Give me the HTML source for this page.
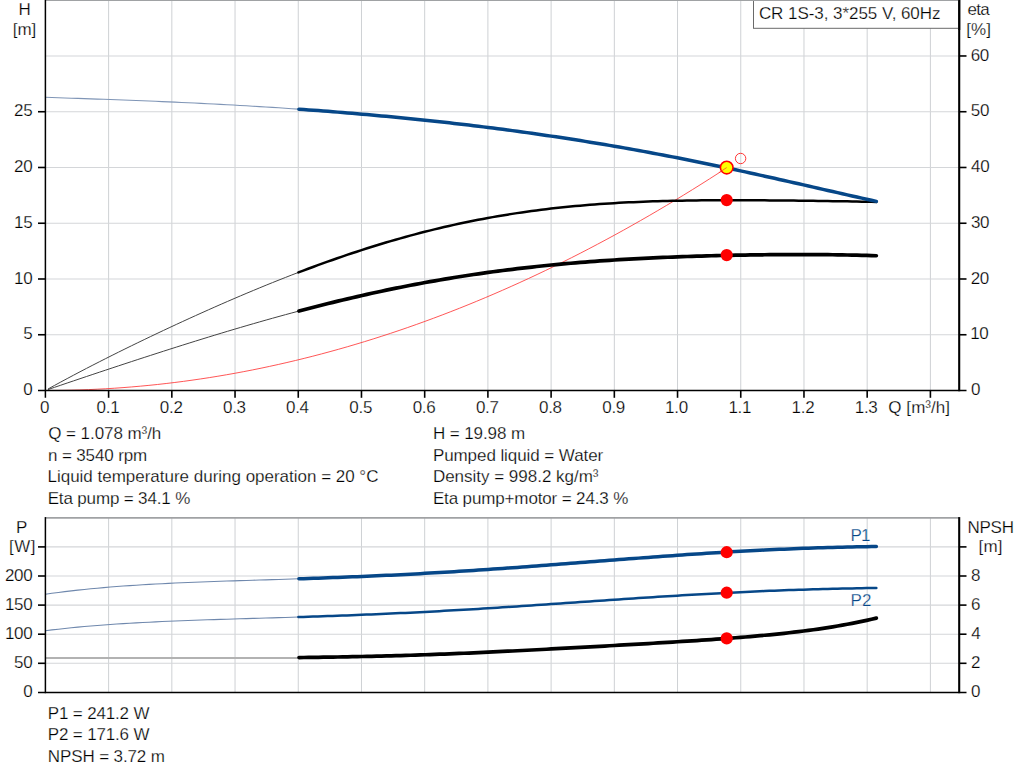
<!DOCTYPE html><html><head><meta charset="utf-8"><title>Pump curve</title>
<style>html,body{margin:0;padding:0;background:#fff;overflow:hidden}svg{display:block}text{font-family:"Liberation Sans",sans-serif;font-size:17px;fill:#000;stroke:#fff;stroke-width:0.25px;paint-order:fill stroke}</style></head><body>
<svg width="1024" height="781" viewBox="0 0 1024 781">
<rect width="1024" height="781" fill="#fff"/>
<g stroke="#ced1d4" stroke-width="1"><line x1="108.61" y1="0" x2="108.61" y2="390.50"/><line x1="108.61" y1="517.90" x2="108.61" y2="692.40"/><line x1="171.83" y1="0" x2="171.83" y2="390.50"/><line x1="171.83" y1="517.90" x2="171.83" y2="692.40"/><line x1="235.04" y1="0" x2="235.04" y2="390.50"/><line x1="235.04" y1="517.90" x2="235.04" y2="692.40"/><line x1="298.26" y1="0" x2="298.26" y2="390.50"/><line x1="298.26" y1="517.90" x2="298.26" y2="692.40"/><line x1="361.47" y1="0" x2="361.47" y2="390.50"/><line x1="361.47" y1="517.90" x2="361.47" y2="692.40"/><line x1="424.68" y1="0" x2="424.68" y2="390.50"/><line x1="424.68" y1="517.90" x2="424.68" y2="692.40"/><line x1="487.90" y1="0" x2="487.90" y2="390.50"/><line x1="487.90" y1="517.90" x2="487.90" y2="692.40"/><line x1="551.11" y1="0" x2="551.11" y2="390.50"/><line x1="551.11" y1="517.90" x2="551.11" y2="692.40"/><line x1="614.33" y1="0" x2="614.33" y2="390.50"/><line x1="614.33" y1="517.90" x2="614.33" y2="692.40"/><line x1="677.54" y1="0" x2="677.54" y2="390.50"/><line x1="677.54" y1="517.90" x2="677.54" y2="692.40"/><line x1="740.75" y1="0" x2="740.75" y2="390.50"/><line x1="740.75" y1="517.90" x2="740.75" y2="692.40"/><line x1="803.97" y1="0" x2="803.97" y2="390.50"/><line x1="803.97" y1="517.90" x2="803.97" y2="692.40"/><line x1="867.18" y1="0" x2="867.18" y2="390.50"/><line x1="867.18" y1="517.90" x2="867.18" y2="692.40"/><line x1="930.40" y1="0" x2="930.40" y2="390.50"/><line x1="930.40" y1="517.90" x2="930.40" y2="692.40"/></g>
<g stroke="#d4d6d9" stroke-width="1.1"><line x1="45.40" y1="334.75" x2="959.20" y2="334.75"/><line x1="45.40" y1="278.99" x2="959.20" y2="278.99"/><line x1="45.40" y1="223.24" x2="959.20" y2="223.24"/><line x1="45.40" y1="167.48" x2="959.20" y2="167.48"/><line x1="45.40" y1="111.73" x2="959.20" y2="111.73"/><line x1="45.40" y1="55.97" x2="959.20" y2="55.97"/><line x1="45.40" y1="663.30" x2="959.20" y2="663.30"/><line x1="45.40" y1="634.20" x2="959.20" y2="634.20"/><line x1="45.40" y1="605.10" x2="959.20" y2="605.10"/><line x1="45.40" y1="576.00" x2="959.20" y2="576.00"/><line x1="45.40" y1="546.90" x2="959.20" y2="546.90"/></g>
<line x1="45.40" y1="0.15" x2="959.20" y2="0.15" stroke="#a0a2a4" stroke-width="1.7"/>
<line x1="45.40" y1="517.90" x2="959.20" y2="517.90" stroke="#a0a2a4" stroke-width="1.7"/>
<path d="M45.40,97.28 L51.88,97.51 L58.37,97.73 L64.85,97.96 L71.33,98.18 L77.82,98.40 L84.30,98.63 L90.78,98.85 L97.27,99.08 L103.75,99.31 L110.23,99.55 L116.72,99.78 L123.20,100.02 L129.69,100.27 L136.17,100.52 L142.65,100.78 L149.14,101.04 L155.62,101.30 L162.10,101.58 L168.59,101.86 L175.07,102.14 L181.55,102.44 L188.04,102.74 L194.52,103.04 L201.00,103.36 L207.49,103.68 L213.97,104.02 L220.45,104.36 L226.94,104.70 L233.42,105.06 L239.90,105.43 L246.39,105.80 L252.87,106.19 L259.36,106.58 L265.84,106.98 L272.32,107.40 L278.81,107.82 L285.29,108.25 L291.77,108.69 L298.26,109.15" fill="none" stroke="#7f95b6" stroke-width="1.1"/>
<path d="M47.93,389.07 L54.35,385.53 L60.77,382.03 L67.18,378.58 L73.60,375.16 L80.02,371.78 L86.44,368.43 L92.86,365.12 L99.28,361.84 L105.70,358.58 L112.12,355.35 L118.53,352.15 L124.95,348.98 L131.37,345.83 L137.79,342.71 L144.21,339.61 L150.63,336.53 L157.05,333.47 L163.46,330.44 L169.88,327.43 L176.30,324.44 L182.72,321.48 L189.14,318.54 L195.56,315.62 L201.98,312.72 L208.39,309.85 L214.81,307.01 L221.23,304.18 L227.65,301.39 L234.07,298.62 L240.49,295.87 L246.91,293.15 L253.33,290.47 L259.74,287.80 L266.16,285.17 L272.58,282.57 L279.00,280.00 L285.42,277.47 L291.84,274.96 L298.26,272.49" fill="none" stroke="#444" stroke-width="1"/>
<path d="M47.93,389.58 L54.35,387.39 L60.77,385.21 L67.18,383.03 L73.60,380.86 L80.02,378.70 L86.44,376.54 L92.86,374.39 L99.28,372.24 L105.70,370.11 L112.12,367.98 L118.53,365.85 L124.95,363.74 L131.37,361.63 L137.79,359.53 L144.21,357.44 L150.63,355.36 L157.05,353.29 L163.46,351.22 L169.88,349.17 L176.30,347.13 L182.72,345.10 L189.14,343.08 L195.56,341.08 L201.98,339.09 L208.39,337.11 L214.81,335.14 L221.23,333.19 L227.65,331.26 L234.07,329.34 L240.49,327.44 L246.91,325.56 L253.33,323.70 L259.74,321.85 L266.16,320.03 L272.58,318.22 L279.00,316.44 L285.42,314.68 L291.84,312.94 L298.26,311.22" fill="none" stroke="#444" stroke-width="1"/>
<path d="M45.40,390.50 L54.03,390.46 L62.65,390.36 L71.28,390.18 L79.90,389.93 L88.53,389.61 L97.16,389.21 L105.78,388.75 L114.41,388.22 L123.03,387.61 L131.66,386.93 L140.29,386.18 L148.91,385.36 L157.54,384.47 L166.16,383.50 L174.79,382.47 L183.41,381.36 L192.04,380.18 L200.67,378.93 L209.29,377.61 L217.92,376.22 L226.54,374.76 L235.17,373.22 L243.80,371.62 L252.42,369.94 L261.05,368.19 L269.67,366.37 L278.30,364.48 L286.93,362.51 L295.55,360.48 L304.18,358.37 L312.80,356.19 L321.43,353.94 L330.06,351.62 L338.68,349.23 L347.31,346.77 L355.93,344.23 L364.56,341.63 L373.18,338.95 L381.81,336.20 L390.44,333.38 L399.06,330.49 L407.69,327.53 L416.31,324.49 L424.94,321.39 L433.57,318.21 L442.19,314.96 L450.82,311.64 L459.44,308.25 L468.07,304.79 L476.70,301.25 L485.32,297.65 L493.95,293.97 L502.57,290.22 L511.20,286.40 L519.83,282.51 L528.45,278.55 L537.08,274.51 L545.70,270.41 L554.33,266.23 L562.95,261.98 L571.58,257.66 L580.21,253.27 L588.83,248.81 L597.46,244.28 L606.08,239.67 L614.71,235.00 L623.34,230.25 L631.96,225.43 L640.59,220.54 L649.21,215.58 L657.84,210.54 L666.47,205.44 L675.09,200.26 L683.72,195.01 L692.34,189.69 L700.97,184.30 L709.60,178.84 L718.22,173.31 L726.85,167.70" fill="none" stroke="#ff3838" stroke-width="0.85"/>
<path d="M298.41,272.43 L303.26,270.59 L308.12,268.76 L312.98,266.96 L317.83,265.17 L322.69,263.41 L327.55,261.67 L332.40,259.95 L337.26,258.25 L342.12,256.57 L346.97,254.92 L351.83,253.29 L356.69,251.69 L361.54,250.11 L366.40,248.55 L371.26,247.02 L376.11,245.51 L380.97,244.02 L385.83,242.56 L390.68,241.13 L395.54,239.72 L400.40,238.34 L405.25,236.98 L410.11,235.65 L414.97,234.35 L419.82,233.07 L424.68,231.82 L429.54,230.60 L434.39,229.40 L439.25,228.23 L444.11,227.09 L448.96,225.97 L453.82,224.88 L458.68,223.81 L463.53,222.78 L468.39,221.77 L473.25,220.79 L478.10,219.83 L482.96,218.90 L487.82,218.00 L492.67,217.12 L497.53,216.27 L502.39,215.45 L507.24,214.65 L512.10,213.88 L516.96,213.13 L521.81,212.41 L526.67,211.72 L531.53,211.05 L536.38,210.40 L541.24,209.78 L546.10,209.18 L550.95,208.61 L555.81,208.06 L560.67,207.53 L565.52,207.03 L570.38,206.54 L575.24,206.08 L580.09,205.65 L584.95,205.23 L589.81,204.83 L594.66,204.46 L599.52,204.10 L604.38,203.76 L609.23,203.45 L614.09,203.15 L618.95,202.87 L623.80,202.60 L628.66,202.36 L633.52,202.13 L638.37,201.91 L643.23,201.72 L648.09,201.53 L652.94,201.36 L657.80,201.21 L662.66,201.07 L667.51,200.94 L672.37,200.83 L677.23,200.72 L682.08,200.63 L686.94,200.55 L691.80,200.48 L696.65,200.42 L701.51,200.37 L706.37,200.32 L711.22,200.29 L716.08,200.26 L720.94,200.25 L725.79,200.24 L730.65,200.23 L735.51,200.23 L740.36,200.24 L745.22,200.25 L750.07,200.27 L754.93,200.29 L759.79,200.32 L764.64,200.35 L769.50,200.39 L774.36,200.43 L779.21,200.47 L784.07,200.51 L788.93,200.56 L793.78,200.61 L798.64,200.67 L803.50,200.73 L808.35,200.79 L813.21,200.85 L818.07,200.91 L822.92,200.98 L827.78,201.05 L832.64,201.13 L837.49,201.20 L842.35,201.29 L847.21,201.37 L852.06,201.46 L856.92,201.56 L861.78,201.66 L866.63,201.76 L871.49,201.87 L876.35,201.99" fill="none" stroke="#000" stroke-width="2.50" stroke-linejoin="round" stroke-linecap="round"/>
<path d="M299.01,311.02 L303.86,309.74 L308.71,308.47 L313.56,307.21 L318.41,305.97 L323.26,304.75 L328.12,303.54 L332.97,302.34 L337.82,301.16 L342.67,299.99 L347.52,298.84 L352.37,297.70 L357.23,296.58 L362.08,295.47 L366.93,294.38 L371.78,293.30 L376.63,292.24 L381.48,291.20 L386.34,290.18 L391.19,289.16 L396.04,288.17 L400.89,287.19 L405.74,286.23 L410.59,285.29 L415.44,284.36 L420.30,283.45 L425.15,282.55 L430.00,281.68 L434.85,280.82 L439.70,279.97 L444.55,279.14 L449.41,278.33 L454.26,277.54 L459.11,276.76 L463.96,276.00 L468.81,275.26 L473.66,274.53 L478.52,273.82 L483.37,273.12 L488.22,272.44 L493.07,271.78 L497.92,271.13 L502.77,270.50 L507.63,269.89 L512.48,269.29 L517.33,268.70 L522.18,268.13 L527.03,267.58 L531.88,267.04 L536.74,266.52 L541.59,266.01 L546.44,265.51 L551.29,265.03 L556.14,264.57 L560.99,264.12 L565.84,263.68 L570.70,263.25 L575.55,262.84 L580.40,262.44 L585.25,262.06 L590.10,261.68 L594.95,261.32 L599.81,260.97 L604.66,260.64 L609.51,260.31 L614.36,260.00 L619.21,259.69 L624.06,259.40 L628.92,259.12 L633.77,258.85 L638.62,258.59 L643.47,258.34 L648.32,258.10 L653.17,257.87 L658.03,257.65 L662.88,257.43 L667.73,257.23 L672.58,257.03 L677.43,256.85 L682.28,256.67 L687.14,256.50 L691.99,256.34 L696.84,256.18 L701.69,256.04 L706.54,255.90 L711.39,255.77 L716.24,255.64 L721.10,255.52 L725.95,255.41 L730.80,255.31 L735.65,255.21 L740.50,255.12 L745.35,255.04 L750.21,254.96 L755.06,254.89 L759.91,254.83 L764.76,254.77 L769.61,254.72 L774.46,254.68 L779.32,254.64 L784.17,254.61 L789.02,254.59 L793.87,254.58 L798.72,254.57 L803.57,254.57 L808.43,254.58 L813.28,254.60 L818.13,254.62 L822.98,254.66 L827.83,254.70 L832.68,254.76 L837.54,254.82 L842.39,254.90 L847.24,254.98 L852.09,255.08 L856.94,255.19 L861.79,255.31 L866.64,255.45 L871.50,255.60 L876.35,255.76" fill="none" stroke="#000" stroke-width="3.70" stroke-linejoin="round" stroke-linecap="round"/>
<path d="M298.91,109.19 L303.76,109.54 L308.61,109.89 L313.46,110.25 L318.32,110.61 L323.17,110.98 L328.02,111.36 L332.87,111.74 L337.73,112.13 L342.58,112.52 L347.43,112.92 L352.28,113.33 L357.14,113.74 L361.99,114.16 L366.84,114.58 L371.69,115.01 L376.55,115.45 L381.40,115.90 L386.25,116.35 L391.10,116.81 L395.96,117.27 L400.81,117.75 L405.66,118.22 L410.51,118.71 L415.36,119.20 L420.22,119.70 L425.07,120.21 L429.92,120.73 L434.77,121.25 L439.63,121.78 L444.48,122.31 L449.33,122.86 L454.18,123.41 L459.04,123.97 L463.89,124.53 L468.74,125.11 L473.59,125.69 L478.45,126.28 L483.30,126.88 L488.15,127.48 L493.00,128.10 L497.86,128.72 L502.71,129.35 L507.56,129.99 L512.41,130.63 L517.27,131.29 L522.12,131.95 L526.97,132.62 L531.82,133.30 L536.68,133.99 L541.53,134.69 L546.38,135.40 L551.23,136.11 L556.09,136.84 L560.94,137.57 L565.79,138.31 L570.64,139.06 L575.50,139.82 L580.35,140.59 L585.20,141.36 L590.05,142.15 L594.91,142.94 L599.76,143.75 L604.61,144.56 L609.46,145.38 L614.32,146.21 L619.17,147.06 L624.02,147.90 L628.87,148.76 L633.73,149.63 L638.58,150.51 L643.43,151.39 L648.28,152.29 L653.14,153.19 L657.99,154.10 L662.84,155.02 L667.69,155.95 L672.54,156.89 L677.40,157.83 L682.25,158.79 L687.10,159.75 L691.95,160.72 L696.81,161.70 L701.66,162.69 L706.51,163.69 L711.36,164.69 L716.22,165.70 L721.07,166.72 L725.92,167.74 L730.77,168.77 L735.63,169.81 L740.48,170.86 L745.33,171.91 L750.18,172.97 L755.04,174.03 L759.89,175.10 L764.74,176.17 L769.59,177.25 L774.45,178.33 L779.30,179.42 L784.15,180.51 L789.00,181.61 L793.86,182.71 L798.71,183.81 L803.56,184.91 L808.41,186.01 L813.27,187.12 L818.12,188.23 L822.97,189.34 L827.82,190.44 L832.68,191.55 L837.53,192.65 L842.38,193.76 L847.23,194.86 L852.09,195.96 L856.94,197.05 L861.79,198.14 L866.64,199.22 L871.50,200.30 L876.35,201.38" fill="none" stroke="#064788" stroke-width="3.50" stroke-linejoin="round" stroke-linecap="round"/>
<line x1="45.40" y1="658.0" x2="298.26" y2="658.0" stroke="#b2b2b2" stroke-width="1.8"/>
<path d="M45.40,594.25 L51.88,593.33 L58.37,592.46 L64.85,591.64 L71.33,590.87 L77.82,590.14 L84.30,589.45 L90.78,588.80 L97.27,588.18 L103.75,587.60 L110.23,587.06 L116.72,586.55 L123.20,586.06 L129.69,585.61 L136.17,585.18 L142.65,584.78 L149.14,584.40 L155.62,584.04 L162.10,583.70 L168.59,583.38 L175.07,583.07 L181.55,582.78 L188.04,582.51 L194.52,582.24 L201.00,581.99 L207.49,581.75 L213.97,581.52 L220.45,581.29 L226.94,581.07 L233.42,580.86 L239.90,580.65 L246.39,580.45 L252.87,580.24 L259.36,580.04 L265.84,579.84 L272.32,579.64 L278.81,579.44 L285.29,579.23 L291.77,579.03 L298.26,578.82" fill="none" stroke="#6f88ad" stroke-width="1.1"/>
<path d="M45.40,630.72 L51.88,629.92 L58.37,629.18 L64.85,628.47 L71.33,627.80 L77.82,627.17 L84.30,626.57 L90.78,626.01 L97.27,625.48 L103.75,624.98 L110.23,624.50 L116.72,624.06 L123.20,623.64 L129.69,623.24 L136.17,622.87 L142.65,622.51 L149.14,622.18 L155.62,621.86 L162.10,621.56 L168.59,621.28 L175.07,621.01 L181.55,620.75 L188.04,620.50 L194.52,620.27 L201.00,620.04 L207.49,619.82 L213.97,619.61 L220.45,619.40 L226.94,619.20 L233.42,619.00 L239.90,618.81 L246.39,618.61 L252.87,618.42 L259.36,618.23 L265.84,618.04 L272.32,617.85 L278.81,617.66 L285.29,617.46 L291.77,617.26 L298.26,617.06" fill="none" stroke="#6f88ad" stroke-width="1.1"/>
<path d="M298.91,578.80 L303.76,578.64 L308.61,578.47 L313.46,578.31 L318.32,578.14 L323.17,577.97 L328.02,577.79 L332.87,577.61 L337.73,577.43 L342.58,577.24 L347.43,577.05 L352.28,576.86 L357.14,576.66 L361.99,576.46 L366.84,576.25 L371.69,576.04 L376.55,575.82 L381.40,575.60 L386.25,575.37 L391.10,575.14 L395.96,574.90 L400.81,574.66 L405.66,574.41 L410.51,574.16 L415.36,573.90 L420.22,573.64 L425.07,573.37 L429.92,573.09 L434.77,572.82 L439.63,572.53 L444.48,572.24 L449.33,571.95 L454.18,571.65 L459.04,571.35 L463.89,571.04 L468.74,570.73 L473.59,570.42 L478.45,570.09 L483.30,569.77 L488.15,569.44 L493.00,569.11 L497.86,568.77 L502.71,568.43 L507.56,568.08 L512.41,567.74 L517.27,567.39 L522.12,567.03 L526.97,566.67 L531.82,566.31 L536.68,565.95 L541.53,565.59 L546.38,565.22 L551.23,564.85 L556.09,564.48 L560.94,564.11 L565.79,563.74 L570.64,563.36 L575.50,562.99 L580.35,562.61 L585.20,562.23 L590.05,561.86 L594.91,561.48 L599.76,561.10 L604.61,560.73 L609.46,560.35 L614.32,559.98 L619.17,559.60 L624.02,559.23 L628.87,558.86 L633.73,558.49 L638.58,558.12 L643.43,557.76 L648.28,557.40 L653.14,557.04 L657.99,556.68 L662.84,556.33 L667.69,555.98 L672.54,555.63 L677.40,555.29 L682.25,554.95 L687.10,554.62 L691.95,554.29 L696.81,553.97 L701.66,553.65 L706.51,553.33 L711.36,553.02 L716.22,552.72 L721.07,552.42 L725.92,552.13 L730.77,551.85 L735.63,551.57 L740.48,551.29 L745.33,551.03 L750.18,550.77 L755.04,550.51 L759.89,550.27 L764.74,550.03 L769.59,549.79 L774.45,549.57 L779.30,549.35 L784.15,549.14 L789.00,548.93 L793.86,548.74 L798.71,548.55 L803.56,548.37 L808.41,548.19 L813.27,548.03 L818.12,547.87 L822.97,547.72 L827.82,547.57 L832.68,547.43 L837.53,547.30 L842.38,547.18 L847.23,547.06 L852.09,546.95 L856.94,546.85 L861.79,546.76 L866.64,546.67 L871.50,546.58 L876.35,546.51" fill="none" stroke="#064788" stroke-width="3.50" stroke-linejoin="round" stroke-linecap="round"/>
<path d="M298.41,617.06 L303.26,616.90 L308.12,616.75 L312.98,616.59 L317.83,616.43 L322.69,616.26 L327.55,616.09 L332.40,615.92 L337.26,615.75 L342.12,615.57 L346.97,615.39 L351.83,615.20 L356.69,615.01 L361.54,614.82 L366.40,614.62 L371.26,614.42 L376.11,614.22 L380.97,614.01 L385.83,613.79 L390.68,613.57 L395.54,613.35 L400.40,613.12 L405.25,612.89 L410.11,612.65 L414.97,612.41 L419.82,612.16 L424.68,611.91 L429.54,611.66 L434.39,611.40 L439.25,611.14 L444.11,610.87 L448.96,610.60 L453.82,610.32 L458.68,610.04 L463.53,609.76 L468.39,609.47 L473.25,609.18 L478.10,608.88 L482.96,608.58 L487.82,608.28 L492.67,607.98 L497.53,607.67 L502.39,607.36 L507.24,607.04 L512.10,606.73 L516.96,606.41 L521.81,606.09 L526.67,605.76 L531.53,605.44 L536.38,605.11 L541.24,604.78 L546.10,604.45 L550.95,604.12 L555.81,603.78 L560.67,603.45 L565.52,603.11 L570.38,602.77 L575.24,602.44 L580.09,602.10 L584.95,601.76 L589.81,601.43 L594.66,601.09 L599.52,600.76 L604.38,600.42 L609.23,600.09 L614.09,599.75 L618.95,599.42 L623.80,599.09 L628.66,598.76 L633.52,598.44 L638.37,598.11 L643.23,597.79 L648.09,597.47 L652.94,597.16 L657.80,596.85 L662.66,596.54 L667.51,596.23 L672.37,595.93 L677.23,595.63 L682.08,595.33 L686.94,595.04 L691.80,594.75 L696.65,594.47 L701.51,594.19 L706.37,593.92 L711.22,593.65 L716.08,593.39 L720.94,593.13 L725.79,592.88 L730.65,592.63 L735.51,592.39 L740.36,592.15 L745.22,591.92 L750.07,591.70 L754.93,591.48 L759.79,591.27 L764.64,591.06 L769.50,590.86 L774.36,590.67 L779.21,590.48 L784.07,590.30 L788.93,590.12 L793.78,589.95 L798.64,589.79 L803.50,589.63 L808.35,589.48 L813.21,589.34 L818.07,589.20 L822.92,589.06 L827.78,588.94 L832.64,588.82 L837.49,588.70 L842.35,588.59 L847.21,588.49 L852.06,588.39 L856.92,588.29 L861.78,588.20 L866.63,588.12 L871.49,588.04 L876.35,587.96" fill="none" stroke="#064788" stroke-width="2.50" stroke-linejoin="round" stroke-linecap="round"/>
<path d="M299.01,657.58 L303.86,657.51 L308.71,657.44 L313.56,657.37 L318.41,657.30 L323.26,657.22 L328.12,657.14 L332.97,657.07 L337.82,656.98 L342.67,656.90 L347.52,656.81 L352.37,656.71 L357.23,656.62 L362.08,656.51 L366.93,656.41 L371.78,656.30 L376.63,656.18 L381.48,656.06 L386.34,655.94 L391.19,655.81 L396.04,655.67 L400.89,655.53 L405.74,655.38 L410.59,655.23 L415.44,655.07 L420.30,654.91 L425.15,654.75 L430.00,654.57 L434.85,654.40 L439.70,654.22 L444.55,654.03 L449.41,653.84 L454.26,653.64 L459.11,653.44 L463.96,653.24 L468.81,653.03 L473.66,652.82 L478.52,652.60 L483.37,652.38 L488.22,652.15 L493.07,651.93 L497.92,651.69 L502.77,651.46 L507.63,651.22 L512.48,650.98 L517.33,650.74 L522.18,650.49 L527.03,650.24 L531.88,649.99 L536.74,649.74 L541.59,649.48 L546.44,649.23 L551.29,648.97 L556.14,648.71 L560.99,648.45 L565.84,648.18 L570.70,647.92 L575.55,647.65 L580.40,647.39 L585.25,647.12 L590.10,646.85 L594.95,646.58 L599.81,646.31 L604.66,646.03 L609.51,645.76 L614.36,645.49 L619.21,645.21 L624.06,644.93 L628.92,644.66 L633.77,644.38 L638.62,644.09 L643.47,643.81 L648.32,643.53 L653.17,643.24 L658.03,642.95 L662.88,642.66 L667.73,642.37 L672.58,642.07 L677.43,641.77 L682.28,641.47 L687.14,641.16 L691.99,640.85 L696.84,640.53 L701.69,640.21 L706.54,639.88 L711.39,639.55 L716.24,639.20 L721.10,638.86 L725.95,638.50 L730.80,638.13 L735.65,637.76 L740.50,637.37 L745.35,636.98 L750.21,636.57 L755.06,636.15 L759.91,635.71 L764.76,635.26 L769.61,634.80 L774.46,634.32 L779.32,633.82 L784.17,633.30 L789.02,632.76 L793.87,632.21 L798.72,631.63 L803.57,631.02 L808.43,630.40 L813.28,629.74 L818.13,629.06 L822.98,628.35 L827.83,627.61 L832.68,626.83 L837.54,626.02 L842.39,625.18 L847.24,624.30 L852.09,623.38 L856.94,622.42 L861.79,621.41 L866.64,620.36 L871.50,619.27 L876.35,618.12" fill="none" stroke="#000" stroke-width="3.70" stroke-linejoin="round" stroke-linecap="round"/>
<circle cx="726.70" cy="167.6" r="6.3" fill="#ffff00" stroke="#ff0000" stroke-width="1.6"/>
<line x1="718.70" y1="172.80" x2="726.70" y2="167.6" stroke="#ff3030" stroke-width="0.7"/>
<circle cx="740.6" cy="158.5" r="5.2" fill="none" stroke="#ff2020" stroke-width="0.9"/>
<circle cx="726.70" cy="200.10" r="6.1" fill="#ff0000"/>
<circle cx="726.70" cy="255.10" r="6.1" fill="#ff0000"/>
<circle cx="726.70" cy="552.20" r="6.1" fill="#ff0000"/>
<circle cx="726.70" cy="592.70" r="6.1" fill="#ff0000"/>
<circle cx="726.70" cy="638.40" r="6.1" fill="#ff0000"/>
<g stroke="#000"><line x1="45.40" y1="0" x2="45.40" y2="397.80" stroke-width="1.5"/><line x1="959.20" y1="0" x2="959.20" y2="391.30" stroke-width="2.1"/><line x1="38" y1="390.50" x2="966.5" y2="390.50" stroke-width="1.5"/><line x1="45.40" y1="517.10" x2="45.40" y2="693.20" stroke-width="1.5"/><line x1="959.20" y1="517.10" x2="959.20" y2="693.20" stroke-width="2.1"/><line x1="38" y1="692.40" x2="966.5" y2="692.40" stroke-width="1.45"/><line x1="38" y1="334.75" x2="45.40" y2="334.75" stroke-width="1.6"/><line x1="38" y1="278.99" x2="45.40" y2="278.99" stroke-width="1.6"/><line x1="38" y1="223.24" x2="45.40" y2="223.24" stroke-width="1.6"/><line x1="38" y1="167.48" x2="45.40" y2="167.48" stroke-width="1.6"/><line x1="38" y1="111.73" x2="45.40" y2="111.73" stroke-width="1.6"/><line x1="959.20" y1="334.75" x2="966.5" y2="334.75" stroke-width="1.6"/><line x1="959.20" y1="278.99" x2="966.5" y2="278.99" stroke-width="1.6"/><line x1="959.20" y1="223.24" x2="966.5" y2="223.24" stroke-width="1.6"/><line x1="959.20" y1="167.48" x2="966.5" y2="167.48" stroke-width="1.6"/><line x1="959.20" y1="111.73" x2="966.5" y2="111.73" stroke-width="1.6"/><line x1="959.20" y1="55.97" x2="966.5" y2="55.97" stroke-width="1.6"/><line x1="108.61" y1="390.50" x2="108.61" y2="397.80" stroke-width="1.6"/><line x1="171.83" y1="390.50" x2="171.83" y2="397.80" stroke-width="1.6"/><line x1="235.04" y1="390.50" x2="235.04" y2="397.80" stroke-width="1.6"/><line x1="298.26" y1="390.50" x2="298.26" y2="397.80" stroke-width="1.6"/><line x1="361.47" y1="390.50" x2="361.47" y2="397.80" stroke-width="1.6"/><line x1="424.68" y1="390.50" x2="424.68" y2="397.80" stroke-width="1.6"/><line x1="487.90" y1="390.50" x2="487.90" y2="397.80" stroke-width="1.6"/><line x1="551.11" y1="390.50" x2="551.11" y2="397.80" stroke-width="1.6"/><line x1="614.33" y1="390.50" x2="614.33" y2="397.80" stroke-width="1.6"/><line x1="677.54" y1="390.50" x2="677.54" y2="397.80" stroke-width="1.6"/><line x1="740.75" y1="390.50" x2="740.75" y2="397.80" stroke-width="1.6"/><line x1="803.97" y1="390.50" x2="803.97" y2="397.80" stroke-width="1.6"/><line x1="867.18" y1="390.50" x2="867.18" y2="397.80" stroke-width="1.6"/><line x1="930.40" y1="390.50" x2="930.40" y2="397.80" stroke-width="1.6"/><line x1="38" y1="663.30" x2="45.40" y2="663.30" stroke-width="1.6"/><line x1="959.20" y1="663.30" x2="966.5" y2="663.30" stroke-width="1.6"/><line x1="38" y1="634.20" x2="45.40" y2="634.20" stroke-width="1.6"/><line x1="959.20" y1="634.20" x2="966.5" y2="634.20" stroke-width="1.6"/><line x1="38" y1="605.10" x2="45.40" y2="605.10" stroke-width="1.6"/><line x1="959.20" y1="605.10" x2="966.5" y2="605.10" stroke-width="1.6"/><line x1="38" y1="576.00" x2="45.40" y2="576.00" stroke-width="1.6"/><line x1="959.20" y1="576.00" x2="966.5" y2="576.00" stroke-width="1.6"/><line x1="38" y1="546.90" x2="45.40" y2="546.90" stroke-width="1.6"/><line x1="959.20" y1="546.90" x2="966.5" y2="546.90" stroke-width="1.6"/></g>
<rect x="753.5" y="-1" width="205" height="29.3" fill="#fff" stroke="#6a6a6a" stroke-width="1"/>
<line x1="753" y1="0.15" x2="959.20" y2="0.15" stroke="#a0a2a4" stroke-width="1.7"/>
<line x1="959.20" y1="0" x2="959.20" y2="30" stroke="#000" stroke-width="2.1"/>
<text x="758.90" y="19.00" style="letter-spacing:-0.052px;">CR 1S-3, 3*255 V, 60Hz</text>
<text x="18.55" y="15.00">H</text>
<text x="12.70" y="34.50">[m]</text>
<text x="23.20" y="395.20" style="letter-spacing:-0.300px;">0</text>
<text x="23.20" y="339.44" style="letter-spacing:-0.300px;">5</text>
<text x="14.00" y="283.69" style="letter-spacing:-0.300px;">10</text>
<text x="14.00" y="227.94" style="letter-spacing:-0.300px;">15</text>
<text x="14.00" y="172.18" style="letter-spacing:-0.300px;">20</text>
<text x="14.00" y="116.43" style="letter-spacing:-0.300px;">25</text>
<text x="970.90" y="395.20" style="letter-spacing:-0.300px;">0</text>
<text x="970.20" y="339.44" style="letter-spacing:-0.300px;">10</text>
<text x="970.70" y="283.69" style="letter-spacing:-0.300px;">20</text>
<text x="970.90" y="227.94" style="letter-spacing:-0.300px;">30</text>
<text x="971.10" y="172.18" style="letter-spacing:-0.300px;">40</text>
<text x="970.80" y="116.43" style="letter-spacing:-0.300px;">50</text>
<text x="970.70" y="60.67" style="letter-spacing:-0.300px;">60</text>
<text x="967.40" y="15.00" style="letter-spacing:-0.700px;">eta</text>
<text x="966.30" y="34.50" style="letter-spacing:0.050px;">[%]</text>
<text x="40.00" y="413.00">0</text>
<text x="96.61" y="413.00" style="letter-spacing:-0.300px;">0.1</text>
<text x="159.83" y="413.00" style="letter-spacing:-0.300px;">0.2</text>
<text x="222.99" y="413.00" style="letter-spacing:-0.300px;">0.3</text>
<text x="286.06" y="413.00" style="letter-spacing:-0.300px;">0.4</text>
<text x="349.37" y="413.00" style="letter-spacing:-0.300px;">0.5</text>
<text x="412.63" y="413.00" style="letter-spacing:-0.300px;">0.6</text>
<text x="475.90" y="413.00" style="letter-spacing:-0.300px;">0.7</text>
<text x="539.06" y="413.00" style="letter-spacing:-0.300px;">0.8</text>
<text x="602.28" y="413.00" style="letter-spacing:-0.300px;">0.9</text>
<text x="665.09" y="413.00" style="letter-spacing:-0.300px;">1.0</text>
<text x="728.40" y="413.00" style="letter-spacing:-0.300px;">1.1</text>
<text x="791.62" y="413.00" style="letter-spacing:-0.300px;">1.2</text>
<text x="854.78" y="413.00" style="letter-spacing:-0.300px;">1.3</text>
<text x="888.30" y="413.00" style="letter-spacing:0.057px;">Q [m³/h]</text>
<text x="48.30" y="439.00" style="letter-spacing:-0.069px;">Q = 1.078 m³/h</text>
<text x="48.00" y="461.00" style="letter-spacing:-0.136px;">n = 3540 rpm</text>
<text x="47.50" y="482.00" style="letter-spacing:-0.012px;">Liquid temperature during operation = 20 °C</text>
<text x="47.70" y="504.00" style="letter-spacing:-0.156px;">Eta pump = 34.1 %</text>
<text x="432.90" y="439.00" style="letter-spacing:-0.090px;">H = 19.98 m</text>
<text x="432.90" y="461.00" style="letter-spacing:-0.075px;">Pumped liquid = Water</text>
<text x="432.90" y="482.00" style="letter-spacing:-0.010px;">Density = 998.2 kg/m³</text>
<text x="432.90" y="504.00" style="letter-spacing:-0.136px;">Eta pump+motor = 24.3 %</text>
<text x="16.05" y="532.70">P</text>
<text x="9.10" y="551.90" style="letter-spacing:0.400px;">[W]</text>
<text x="23.20" y="697.10" style="letter-spacing:-0.300px;">0</text>
<text x="14.00" y="668.00" style="letter-spacing:-0.300px;">50</text>
<text x="4.90" y="638.90" style="letter-spacing:-0.300px;">100</text>
<text x="4.90" y="609.80" style="letter-spacing:-0.300px;">150</text>
<text x="4.90" y="580.70" style="letter-spacing:-0.300px;">200</text>
<text x="971.10" y="697.10" style="letter-spacing:-0.300px;">0</text>
<text x="970.90" y="668.00" style="letter-spacing:-0.300px;">2</text>
<text x="971.30" y="638.90" style="letter-spacing:-0.300px;">4</text>
<text x="970.90" y="609.80" style="letter-spacing:-0.300px;">6</text>
<text x="971.00" y="580.70" style="letter-spacing:-0.300px;">8</text>
<text x="967.40" y="533.00" style="letter-spacing:-0.233px;">NPSH</text>
<text x="978.40" y="551.90" style="letter-spacing:0.300px;">[m]</text>
<text x="850.60" y="540.80" style="letter-spacing:-1.000px;fill:#064788;">P1</text>
<text x="850.60" y="605.80" style="letter-spacing:0.100px;fill:#064788;">P2</text>
<text x="47.80" y="719.00" style="letter-spacing:-0.164px;">P1 = 241.2 W</text>
<text x="47.80" y="740.00" style="letter-spacing:-0.164px;">P2 = 171.6 W</text>
<text x="47.80" y="761.50" style="letter-spacing:-0.117px;">NPSH = 3.72 m</text>
</svg></body></html>
